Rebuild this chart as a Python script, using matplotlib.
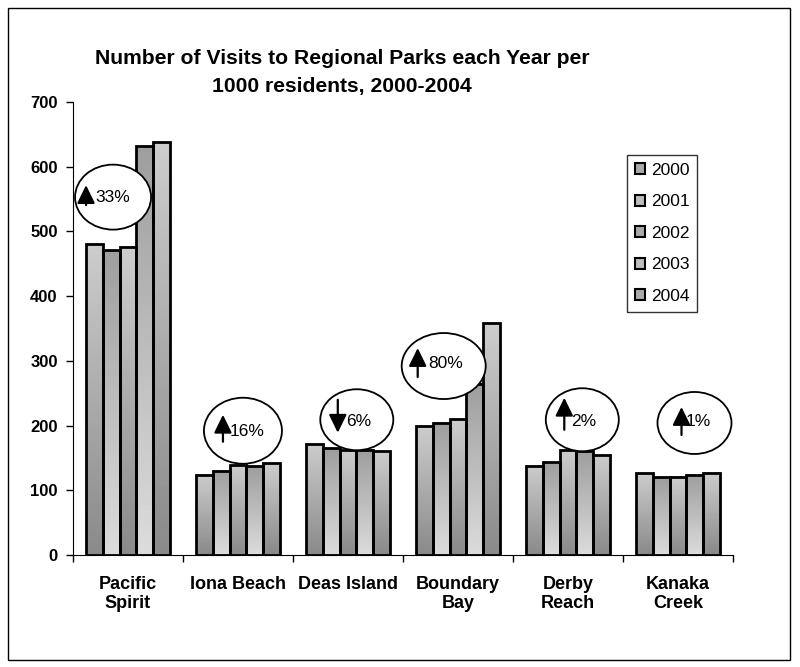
import matplotlib.pyplot as plt
import numpy as np
from matplotlib.patches import Ellipse, Rectangle, Patch

plt.rcParams['font.family'] = ['Liberation Sans', 'DejaVu Sans']

parks = ['Pacific\nSpirit', 'Iona Beach', 'Deas Island', 'Boundary\nBay', 'Derby\nReach', 'Kanaka\nCreek']
years = ['2000', '2001', '2002', '2003', '2004']
v2000 = [481, 124, 172, 199, 138, 126]
v2001 = [471, 130, 165, 204, 143, 120]
v2002 = [476, 139, 162, 210, 162, 121]
v2003 = [632, 137, 163, 265, 160, 124]
v2004 = [638, 142, 160, 359, 155, 127]
series = [v2000, v2001, v2002, v2003, v2004]

# change 2000 -> 2004 shown in the bubbles
change_text = ['33%', '16%', '6%', '80%', '2%', '1%']
change_up = [True, True, False, True, True, True]

# bubble centre (x in category units, y in data units) and size in pixels
bubbles = [(0.364, 553, 76, 65), (1.545, 192, 78, 66), (2.58, 209, 73, 61),
           (3.37, 292, 84, 66), (4.63, 209, 73, 63), (5.65, 204, 74, 62)]
# arrow x, arrow top, arrow bottom, text x, text y (pixel offsets from bubble centre)
bubble_marks = [(-27, -12, 8, -18, 0), (-20, -16, 11, -13, 1), (-19, -20, 13, -11, 2),
                (-26, -18, 11, -15, -3), (-18, -22, 10, -11, 2), (-13, -16, 12, -9, -1)]

fig = plt.figure(figsize=(8, 6.67), dpi=100)
ax = fig.add_axes([73/800, 1 - 555/667, 660/800, 453/667])

px_x = 660 / 6      # pixels per category
px_y = 453 / 700    # pixels per unit

# odd series fade light->dark downwards, even ones dark->light
grads = [(0.80, 0.54), (0.62, 0.86), (0.80, 0.54), (0.62, 0.86), (0.80, 0.54)]
bw = 0.154
centers = np.arange(len(parks)) + 0.5
for i, vals in enumerate(series):
    xs = centers + (i - 2) * bw
    top, bot = grads[i]
    g = np.linspace(top, bot, 64).reshape(-1, 1)
    for x, v in zip(xs, vals):
        ax.imshow(g, extent=(x - bw/2, x + bw/2, 0, v), aspect='auto',
                  cmap='gray', vmin=0, vmax=1, interpolation='bilinear', zorder=2)
    ax.bar(xs, vals, width=bw, facecolor='none', edgecolor='black', lw=2.0, zorder=3)

for (cx, cy, w, h), (axo, at, ab, tx, ty), txt, up in zip(bubbles, bubble_marks, change_text, change_up):
    ax.add_patch(Ellipse((cx, cy), w / px_x, h / px_y, facecolor='white',
                         edgecolor='black', lw=1.3, zorder=5))
    x_arr = cx + axo / px_x
    y_top = cy - at / px_y
    y_bot = cy - ab / px_y
    tip, tail = ((x_arr, y_top), (x_arr, y_bot)) if up else ((x_arr, y_bot), (x_arr, y_top))
    ax.annotate('', xy=tip, xytext=tail,
                arrowprops=dict(arrowstyle='-|>,head_length=0.55,head_width=0.27',
                                color='black', lw=1.6, shrinkA=0, shrinkB=0,
                                mutation_scale=20), zorder=6)
    ax.text(cx + tx / px_x, cy - ty / px_y, txt, fontsize=12.5, ha='left', va='center', zorder=7)

ax.set_xlim(0, 6)
ax.set_ylim(0, 700)
ax.set_yticks(range(0, 701, 100))
ax.set_xticks(range(7))
ax.set_xticklabels([])
ax.set_xticks(centers, minor=True)
ax.set_xticklabels(parks, minor=True, fontsize=13, fontweight='bold')
ax.tick_params(axis='x', which='major', direction='out', length=5, width=1)
ax.tick_params(axis='x', which='minor', direction='in', length=3, width=1, pad=15)
ax.tick_params(axis='y', direction='out', length=5, width=1, pad=6, labelsize=12)
for lab in ax.get_yticklabels():
    lab.set_fontweight('bold')
ax.spines['top'].set_visible(False)
ax.spines['right'].set_visible(False)

handles = [Patch(facecolor='#aaaaaa' if i % 2 == 0 else '#bdbdbd', edgecolor='black', lw=1.5)
           for i in range(len(years))]
leg = ax.legend(handles, years, loc='upper left', bbox_to_anchor=(0.839, 0.883),
                borderaxespad=0, fontsize=12.5, frameon=True, fancybox=False,
                handlelength=0.6, handleheight=0.6, handletextpad=0.35,
                labelspacing=0.95, borderpad=0.45)
leg.get_frame().set_edgecolor('black')
leg.get_frame().set_linewidth(1.0)

fig.text(342/800, 1 - 72.5/667, 'Number of Visits to Regional Parks each Year per\n1000 residents, 2000-2004',
         ha='center', va='center', fontsize=15.2, fontweight='bold', linespacing=1.6)

fig.patches.append(Rectangle((8/800, 7/667), 782/800, 652/667, transform=fig.transFigure,
                             fill=False, edgecolor='black', lw=1.0))

fig.savefig('out.png', dpi=100)
